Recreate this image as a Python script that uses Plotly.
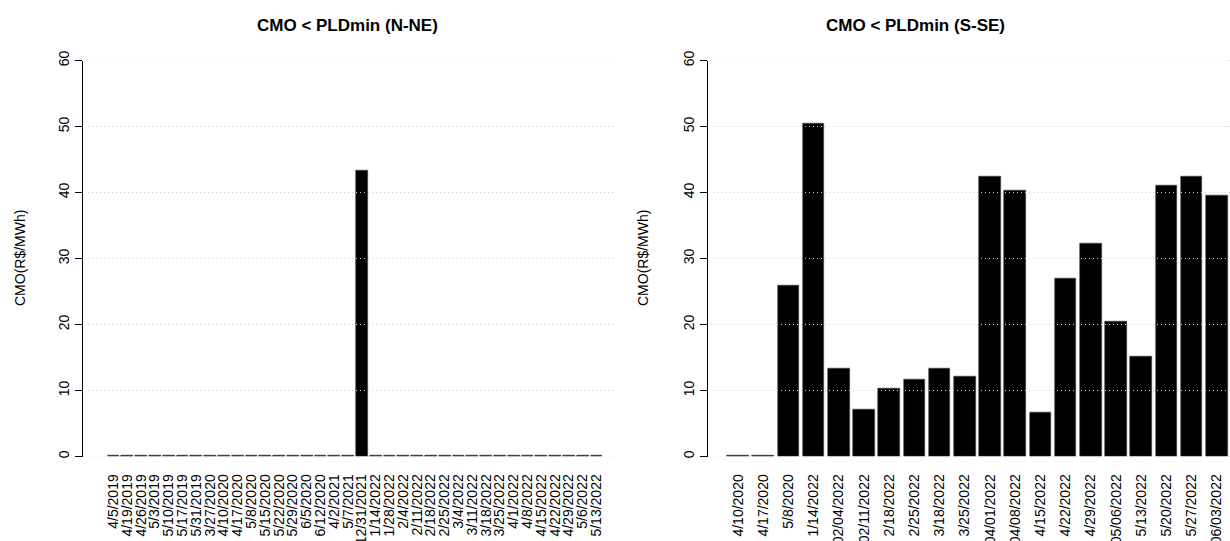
import plotly.graph_objects as go

# ---------------- data ----------------
nne_dates = ["4/5/2019", "4/19/2019", "4/26/2019", "5/3/2019", "5/10/2019", "5/17/2019",
             "5/31/2019", "3/27/2020", "4/10/2020", "4/17/2020", "5/8/2020", "5/15/2020",
             "5/22/2020", "5/29/2020", "6/5/2020", "6/12/2020", "4/2/2021", "5/7/2021",
             "12/31/2021", "1/14/2022", "1/28/2022", "2/4/2022", "2/11/2022", "2/18/2022",
             "2/25/2022", "3/4/2022", "3/11/2022", "3/18/2022", "3/25/2022", "4/1/2022",
             "4/8/2022", "4/15/2022", "4/22/2022", "4/29/2022", "5/6/2022", "5/13/2022"]
nne_cmo = [0.15] * 18 + [43.3] + [0.15] * 17

sse_dates = ["4/10/2020", "4/17/2020", "5/8/2020", "1/14/2022", "02/04/2022", "02/11/2022",
             "2/18/2022", "2/25/2022", "3/18/2022", "3/25/2022", "04/01/2022", "04/08/2022",
             "4/15/2022", "4/22/2022", "4/29/2022", "05/06/2022", "5/13/2022", "5/20/2022",
             "5/27/2022", "06/03/2022"]
sse_cmo = [0.2, 0.2, 25.9, 50.4, 13.3, 7.1, 10.3, 11.7, 13.3, 12.1,
           42.4, 40.3, 6.6, 27.0, 32.3, 20.5, 15.2, 41.1, 42.4, 39.6]

y_ticks = [0, 10, 20, 30, 40, 50, 60]
titles = ["CMO < PLDmin (N-NE)", "CMO < PLDmin (S-SE)"]
y_title = "CMO(R$/MWh)"

# ---------------- layout helpers ----------------
W, H = 1230, 541
FONT = "Liberation Sans, Arial, Helvetica, sans-serif"

def px(x):
    return x / W

def py(y):
    return (H - y) / H

y_dom = [py(456.5), py(60.5)]

fig = go.Figure()
fig.add_trace(go.Bar(x=list(range(len(nne_dates))), y=nne_cmo, width=0.85,
                     marker=dict(color="black", line=dict(color="#444", width=0.6)),
                     xaxis="x", yaxis="y", showlegend=False))
fig.add_trace(go.Bar(x=list(range(len(sse_dates))), y=sse_cmo, width=0.85,
                     marker=dict(color="black", line=dict(color="#444", width=0.6)),
                     xaxis="x2", yaxis="y2", showlegend=False))

# left panel: first category at 113.5px, spacing 13.8px
l0, ls = 113.5, 13.8
r0, rs = 738.0, 25.2

xcommon = dict(showgrid=False, zeroline=False, showline=False, ticks="",
               tickangle=-90, tickfont=dict(family=FONT, size=14, color="black"),
               automargin=False, ticklabelstandoff=14, fixedrange=True)
ycommon = dict(range=[0, 60], tickvals=y_ticks, showgrid=False, zeroline=False,
               showline=True, linecolor="black", linewidth=1, ticks="outside",
               ticklen=7, tickcolor="black", tickwidth=1, tickangle=-90,
               tickfont=dict(family=FONT, size=14, color="black"), automargin=False,
               domain=y_dom)

fig.update_layout(
    width=W, height=H, margin=dict(l=0, r=0, t=0, b=0),
    paper_bgcolor="white", plot_bgcolor="white", bargap=0,
    xaxis=dict(domain=[px(83), px(613)], range=[(83 - l0) / ls, (613 - l0) / ls],
               tickvals=list(range(len(nne_dates))), ticktext=nne_dates, anchor="y", **xcommon),
    yaxis=dict(anchor="x", **ycommon),
    xaxis2=dict(domain=[px(708), 1.0], range=[(708 - r0) / rs, (1230 - r0) / rs],
                tickvals=list(range(len(sse_dates))), ticktext=sse_dates, anchor="y2", **xcommon),
    yaxis2=dict(anchor="x2", **ycommon),
)

# dotted grid drawn above the bars
grid_line = dict(color="#d0d0d0", width=1, dash="1px,3px")
shapes = []
for v in y_ticks:
    shapes.append(dict(type="line", xref="paper", yref="y", x0=px(88), x1=px(613), y0=v, y1=v,
                       line=grid_line, layer="above"))
    shapes.append(dict(type="line", xref="paper", yref="y2", x0=px(713), x1=1.0, y0=v, y1=v,
                       line=grid_line, layer="above"))
fig.update_layout(shapes=shapes)

annots = []
for t, xc in zip(titles, [348, 915]):
    annots.append(dict(text="<b>" + t + "</b>", x=px(xc), y=py(25), xref="paper", yref="paper",
                       showarrow=False, xanchor="center", yanchor="middle",
                       font=dict(family=FONT, size=17, color="black")))
for xc in [20, 643]:
    annots.append(dict(text=y_title, x=px(xc), y=py(258), xref="paper", yref="paper",
                       showarrow=False, xanchor="center", yanchor="middle", textangle=-90,
                       font=dict(family=FONT, size=14, color="black")))
fig.update_layout(annotations=annots)

fig.write_html("out.html", config={"displayModeBar": False},
               post_script="document.body.style.margin='0';document.body.style.overflow='hidden';")
